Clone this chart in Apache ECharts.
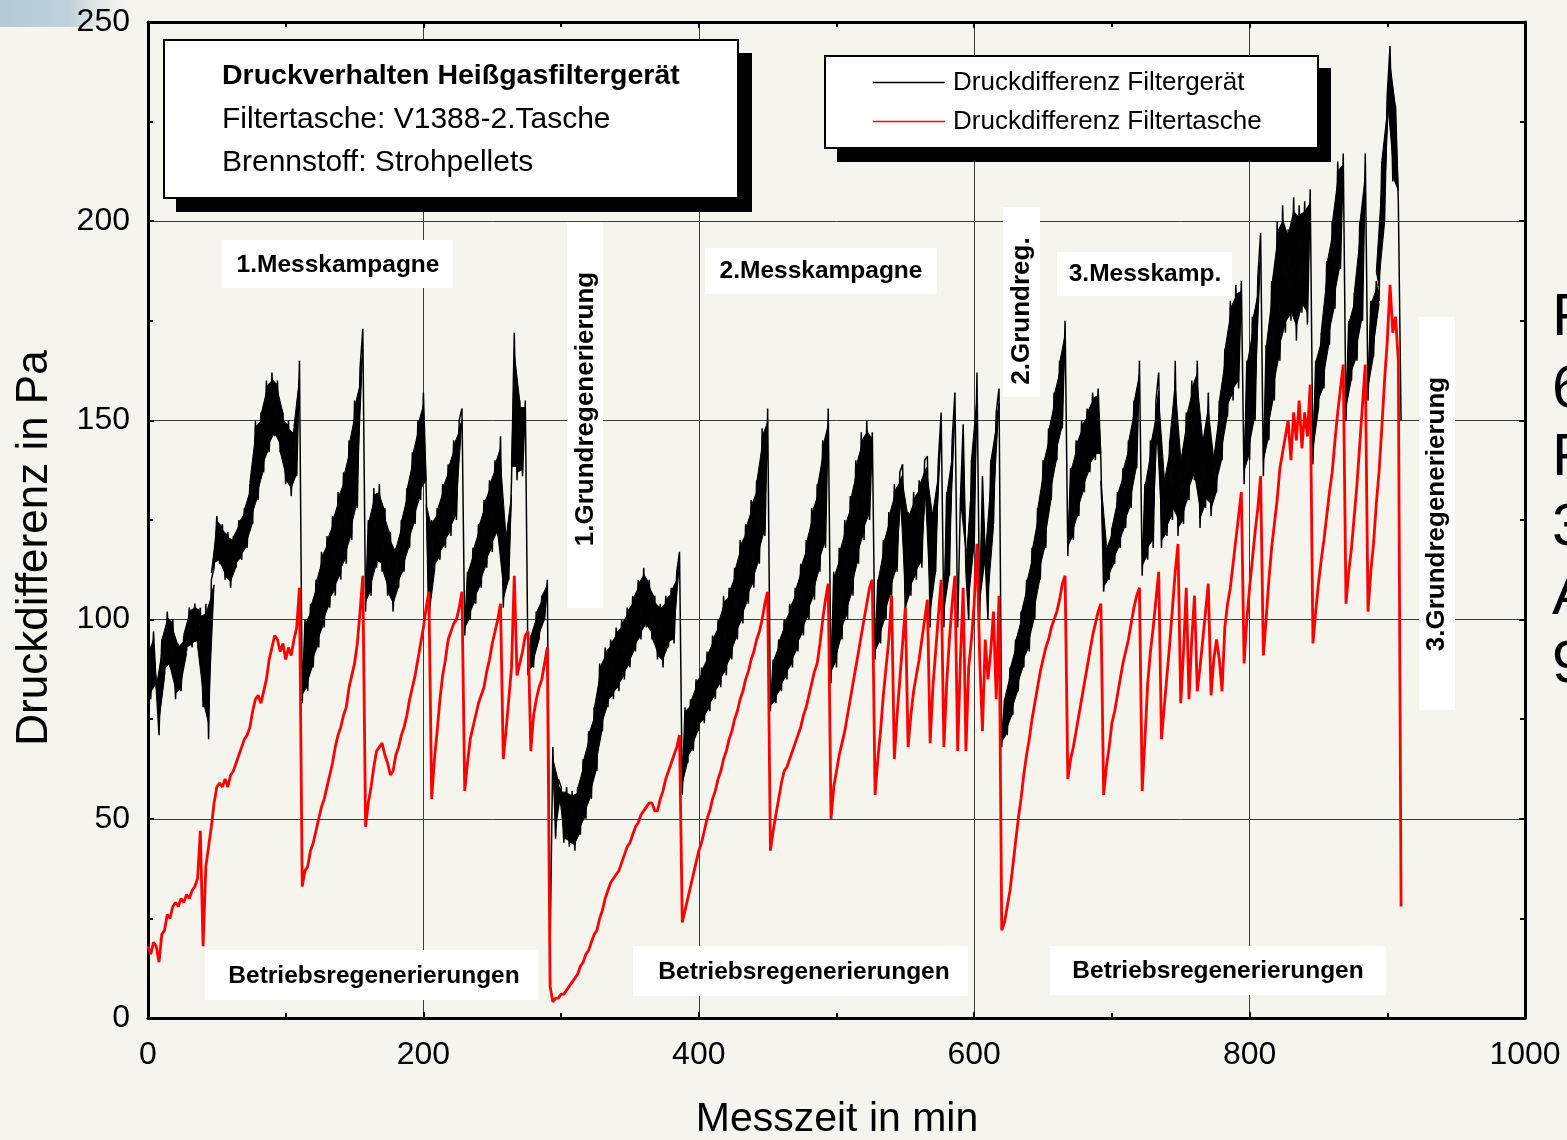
<!DOCTYPE html>
<html>
<head>
<meta charset="utf-8">
<style>
html,body{margin:0;padding:0;background:#f5f5ee;}
#chart{width:1567px;height:1140px;}
</style>
<script src="https://cdn.jsdelivr.net/npm/echarts@6/dist/echarts.min.js"></script>
</head>
<body>
<div id="chart"></div>
<script>
// ---- data ----
// sampling step of the measurement time axis in minutes
const zeitschrittMin = 2;

// Druckdifferenz Filtergerät (Pa), one value every 2 min from t = 0 to 910 min
const druckFiltergeraet = [
  92,80,97,83,71,95,86,102,88,100,
  80,94,82,96,92,103,93,104,94,103,
  78,104,70,110,113,126,114,124,110,122,
  108,121,113,125,115,128,118,134,124,150,
  130,152,137,160,142,162,146,160,142,152,
  134,150,131,148,136,165,79,100,82,104,
  88,110,93,117,98,121,103,126,106,132,
  110,137,114,145,120,155,128,163,173,102,
  125,106,133,113,134,112,128,106,122,102,
  118,108,125,112,133,118,142,124,150,130,
  157,133,97,125,112,128,115,134,118,139,
  121,145,125,150,153,96,112,100,118,104,
  124,108,130,113,135,117,140,121,146,103,
  120,110,135,172,135,155,136,155,86,96,
  88,102,95,106,100,110,17,68,45,60,
  58,44,58,43,57,42,58,46,65,50,
  72,55,78,62,89,72,93,78,95,80,
  98,82,100,85,103,88,106,92,110,95,
  113,98,110,95,106,90,104,88,106,93,
  108,94,112,117,56,78,64,80,67,85,
  72,88,74,92,77,96,80,100,83,106,
  86,108,90,113,95,120,99,124,104,130,
  108,135,114,148,121,153,77,90,79,95,
  82,100,85,104,88,108,92,114,96,120,
  100,128,105,134,112,145,118,153,84,112,
  88,118,95,125,100,131,106,140,114,147,
  120,150,125,147,90,110,94,120,100,127,
  106,134,112,137,139,100,127,106,132,110,
  135,113,140,141,98,127,112,140,152,98,
  132,111,145,157,98,130,149,112,100,140,
  119,162,100,136,115,100,140,124,152,158,
  68,80,71,88,76,95,82,102,88,110,
  92,118,100,128,110,140,118,148,130,157,
  140,165,148,175,116,138,120,145,126,150,
  132,153,137,157,140,158,140,107,118,110,
  123,114,132,118,138,123,145,128,155,138,
  165,111,134,115,145,118,155,162,118,135,
  121,145,125,165,121,140,124,152,130,160,
  135,165,123,145,128,157,126,140,132,155,
  140,168,151,180,155,184,158,185,134,165,
  140,176,150,186,197,136,169,145,185,155,
  200,165,204,172,198,175,206,170,204,177,
  205,174,208,139,165,153,172,158,190,169,
  200,178,215,188,217,150,175,160,182,165,
  200,175,217,155,180,166,185,180,215,200,
  232,244,210,229,205,150
];

// Druckdifferenz Filtertasche (Pa), one value every 2 min from t = 0 to 910 min
const druckFiltertasche = [
  18,16,19,18,14,21,22,26,25,28,
  29,28,30,29,31,30,32,33,35,47,
  18,38,43,48,54,58,59,58,60,58,
  61,62,64,66,68,70,71,73,77,80,
  81,79,82,85,90,93,96,95,92,94,
  90,93,91,95,98,108,33,37,38,42,
  44,47,50,53,55,58,61,64,68,71,
  73,76,78,83,86,89,94,102,111,48,
  54,58,63,67,68,69,66,64,61,62,
  66,68,71,73,76,80,83,86,90,94,
  98,103,107,55,65,72,80,86,90,95,
  97,99,100,103,107,57,64,70,73,76,
  79,81,83,87,90,94,97,100,104,65,
  72,80,88,111,86,89,92,96,97,67,
  76,80,83,85,89,93,8,4,5,5,
  6,6,7,8,9,10,11,13,14,16,
  17,19,21,22,25,27,30,32,34,35,
  36,37,39,41,43,44,46,48,49,51,
  52,53,54,54,52,52,55,57,60,62,
  64,66,68,71,24,27,30,33,36,39,
  42,44,47,50,52,55,57,60,62,65,
  67,70,72,75,77,80,82,85,87,90,
  92,95,97,100,104,107,42,47,51,55,
  59,62,63,65,67,69,71,73,76,78,
  81,84,87,89,94,100,105,109,50,58,
  62,66,69,72,76,80,84,88,92,96,
  100,104,108,110,56,65,72,81,88,95,
  106,65,76,85,94,103,68,76,82,86,
  90,95,100,105,69,83,92,101,110,68,
  84,95,104,111,67,90,108,67,88,95,
  104,119,90,72,95,85,92,102,80,106,
  22,24,28,32,38,44,50,55,61,66,
  70,75,79,83,87,90,93,95,98,100,
  102,105,109,111,60,65,68,72,76,80,
  84,88,92,96,99,102,104,56,63,68,
  74,77,81,85,89,92,95,99,103,106,
  108,57,70,84,92,98,105,112,70,78,
  86,94,103,112,119,79,92,108,80,95,
  106,82,88,95,102,109,81,90,95,90,
  82,98,104,108,114,120,126,132,89,100,
  108,115,122,128,136,91,100,110,118,124,
  130,138,142,146,150,140,152,145,155,143,
  152,146,159,94,102,109,115,120,126,132,
  137,145,152,158,164,104,112,118,126,134,
  144,154,164,102,112,119,129,137,148,160,
  170,184,172,176,165,28
];

const seriesNames = ['Druckdifferenz Filtergerät', 'Druckdifferenz Filtertasche'];
const titleLines = ['Druckverhalten Heißgasfiltergerät', 'Filtertasche: V1388-2.Tasche', 'Brennstoff: Strohpellets'];
const xAxisTitle = 'Messzeit in min';
const yAxisTitle = 'Druckdifferenz in Pa';

// ---- chart ----
const FONT = '"Liberation Sans", Arial, Helvetica, sans-serif';
const toPairs = arr => arr.map((v, i) => [i * zeitschrittMin, v]);

// dense core of the black signal: triangles of three consecutive samples
const bandRows = [];
for (let i = 1; i + 1 < druckFiltergeraet.length; i++) {
  bandRows.push([
    (i - 1) * zeitschrittMin, druckFiltergeraet[i - 1],
    i * zeitschrittMin, druckFiltergeraet[i],
    (i + 1) * zeitschrittMin, druckFiltergeraet[i + 1]
  ]);
}
const CORE_SHRINK = 0.72; // visual style: core covers the inner part of the fluctuation

const chart = echarts.init(document.getElementById('chart'), null, {renderer: 'canvas'});

function labelBox(x, y, w, h, text, cx, cy, vertical, size) {
  return [
    {type: 'rect', z: 100, shape: {x: x, y: y, width: w, height: h}, style: {fill: '#ffffff'}},
    {type: 'text', z: 101, x: cx, y: cy, rotation: vertical ? Math.PI / 2 : 0,
      style: {text: text, fill: '#000', font: 'bold ' + size + 'px ' + FONT, align: 'center', verticalAlign: 'middle'}}
  ];
}

const axisCommon = {
  axisLine: {show: true, onZero: false, lineStyle: {color: '#000', width: 3}},
  axisTick: {show: true, inside: true, length: 6, lineStyle: {color: '#000', width: 2}},
  minorTick: {show: true, splitNumber: 2, length: 5, lineStyle: {color: '#000', width: 2}},
};

const option = {
  backgroundColor: '#f5f5ee',
  animation: false,
  grid: {left: 148, right: 42, top: 22, bottom: 122, containLabel: false},
  title: {
    left: 222, top: 59, padding: 0, itemGap: 5, z: 110,
    text: titleLines[0],
    textStyle: {fontFamily: FONT, fontSize: 28.5, fontWeight: 'bold', color: '#000', lineHeight: 34},
    subtext: titleLines[1] + '\n' + titleLines[2],
    subtextStyle: {fontFamily: FONT, fontSize: 30, color: '#000', lineHeight: 43}
  },
  legend: {
    left: 873, top: 63, orient: 'vertical', padding: 0, itemGap: 0, z: 110,
    icon: 'rect', itemWidth: 72, itemHeight: 1.5,
    data: seriesNames,
    textStyle: {fontFamily: FONT, fontSize: 26, color: '#000', lineHeight: 39, padding: [0, 0, 0, 3]}
  },
  xAxis: [
    Object.assign({
      type: 'value', min: 0, max: 1000, interval: 200, position: 'bottom',
      axisLabel: {fontFamily: FONT, fontSize: 32, color: '#000', margin: 21, formatter: v => String(v)},
      splitLine: {show: true, lineStyle: {color: '#3c3c3c', width: 1}}
    }, axisCommon),
    Object.assign({
      type: 'value', min: 0, max: 1000, interval: 200, position: 'top',
      axisLabel: {show: false}, splitLine: {show: false}
    }, axisCommon)
  ],
  yAxis: [
    Object.assign({
      type: 'value', min: 0, max: 250, interval: 50, position: 'left',
      axisLabel: {fontFamily: FONT, fontSize: 32, color: '#000', margin: 18, formatter: v => String(v)},
      splitLine: {show: true, lineStyle: {color: '#3c3c3c', width: 1}}
    }, axisCommon),
    Object.assign({
      type: 'value', min: 0, max: 250, interval: 50, position: 'right',
      axisLabel: {show: false}, splitLine: {show: false}
    }, axisCommon)
  ],
  series: [
    {
      name: 'Filtergerät Schwankungsband', type: 'custom', data: bandRows, silent: true, z: 2,
      encode: {x: [0, 2, 4], y: [1, 3, 5]},
      renderItem: function (params, api) {
        const v = [api.value(1), api.value(3), api.value(5)];
        if (Math.max.apply(null, v) - Math.min.apply(null, v) > 48) return null; // drops: line only
        const m = (v[0] + v[1] + v[2]) / 3;
        const t = [api.value(0), api.value(2), api.value(4)];
        const pts = v.map((val, k) => api.coord([t[k], m + (val - m) * CORE_SHRINK]));
        return {type: 'polygon', shape: {points: pts},
          style: {fill: '#000000', stroke: '#000000', lineWidth: 1}};
      }
    },
    {
      name: seriesNames[0], type: 'line', data: toPairs(druckFiltergeraet),
      symbol: 'none', showSymbol: false, z: 3,
      lineStyle: {color: '#000000', width: 1.5}, itemStyle: {color: '#000000'}
    },
    {
      name: seriesNames[1], type: 'line', data: toPairs(druckFiltertasche),
      symbol: 'none', showSymbol: false, z: 4,
      lineStyle: {color: '#ff0000', width: 2.8}, itemStyle: {color: '#ff0000'}
    }
  ],
  graphic: [
    // bluish slide decoration in the upper left corner
    {type: 'rect', z: -10, shape: {x: 0, y: 0, width: 140, height: 27},
      style: {fill: new echarts.graphic.LinearGradient(0, 0, 1, 0, [
        {offset: 0, color: '#b3cad7'}, {offset: 0.5, color: '#bed1db'}, {offset: 1, color: 'rgba(245,245,238,0)'}
      ])}},
    // title box with shadow
    {type: 'rect', z: 100, shape: {x: 176, y: 53, width: 576, height: 159}, style: {fill: '#000'}},
    {type: 'rect', z: 101, shape: {x: 164, y: 40, width: 574, height: 158}, style: {fill: '#fff', stroke: '#000', lineWidth: 2}},
    // legend box with shadow
    {type: 'rect', z: 100, shape: {x: 837, y: 68, width: 494, height: 94}, style: {fill: '#000'}},
    {type: 'rect', z: 101, shape: {x: 825, y: 56, width: 493, height: 92}, style: {fill: '#fff', stroke: '#000', lineWidth: 2}},
    // axis titles
    {type: 'text', z: 50, x: 837, y: 1120,
      style: {text: xAxisTitle, fill: '#000', font: '41px ' + FONT, align: 'center', verticalAlign: 'middle'}},
    {type: 'text', z: 50, x: 35, y: 548, rotation: Math.PI / 2,
      style: {text: yAxisTitle, fill: '#000', font: '44px ' + FONT, align: 'center', verticalAlign: 'middle'}},
    // text cut off at the right edge of the slide
    {type: 'text', z: 50, x: 1552, y: 318, style: {text: 'F', fill: '#000', font: '60px ' + FONT, align: 'left', verticalAlign: 'middle'}},
    {type: 'text', z: 50, x: 1552, y: 390, style: {text: '6', fill: '#000', font: '60px ' + FONT, align: 'left', verticalAlign: 'middle'}},
    {type: 'text', z: 50, x: 1552, y: 458, style: {text: 'F', fill: '#000', font: '60px ' + FONT, align: 'left', verticalAlign: 'middle'}},
    {type: 'text', z: 50, x: 1552, y: 528, style: {text: '3', fill: '#000', font: '60px ' + FONT, align: 'left', verticalAlign: 'middle'}},
    {type: 'text', z: 50, x: 1552, y: 597, style: {text: 'A', fill: '#000', font: '60px ' + FONT, align: 'left', verticalAlign: 'middle'}},
    {type: 'text', z: 50, x: 1552, y: 665, style: {text: '9', fill: '#000', font: '60px ' + FONT, align: 'left', verticalAlign: 'middle'}}
  ]
    .concat(labelBox(222, 240, 231, 48, '1.Messkampagne', 338, 265, false, 24.5))
    .concat(labelBox(705, 248, 232, 46, '2.Messkampagne', 821, 271, false, 24.5))
    .concat(labelBox(1057, 252, 175, 44, '3.Messkamp.', 1145, 274, false, 24.5))
    .concat(labelBox(205, 950, 333, 50, 'Betriebsregenerierungen', 374, 976, false, 24.5))
    .concat(labelBox(633, 946, 335, 50, 'Betriebsregenerierungen', 804, 972, false, 24.5))
    .concat(labelBox(1050, 946, 336, 49, 'Betriebsregenerierungen', 1218, 971, false, 24.5))
    .concat(labelBox(567, 222, 36, 386, '1.Grundregenerierung', 586, 409, true, 26))
    .concat(labelBox(1003, 207, 37, 190, '2.Grundreg.', 1022, 311, true, 26))
    .concat(labelBox(1419, 317, 36, 393, '3.Grundregenerierung', 1437, 514, true, 26))
};

chart.setOption(option);
</script>
</body>
</html>
